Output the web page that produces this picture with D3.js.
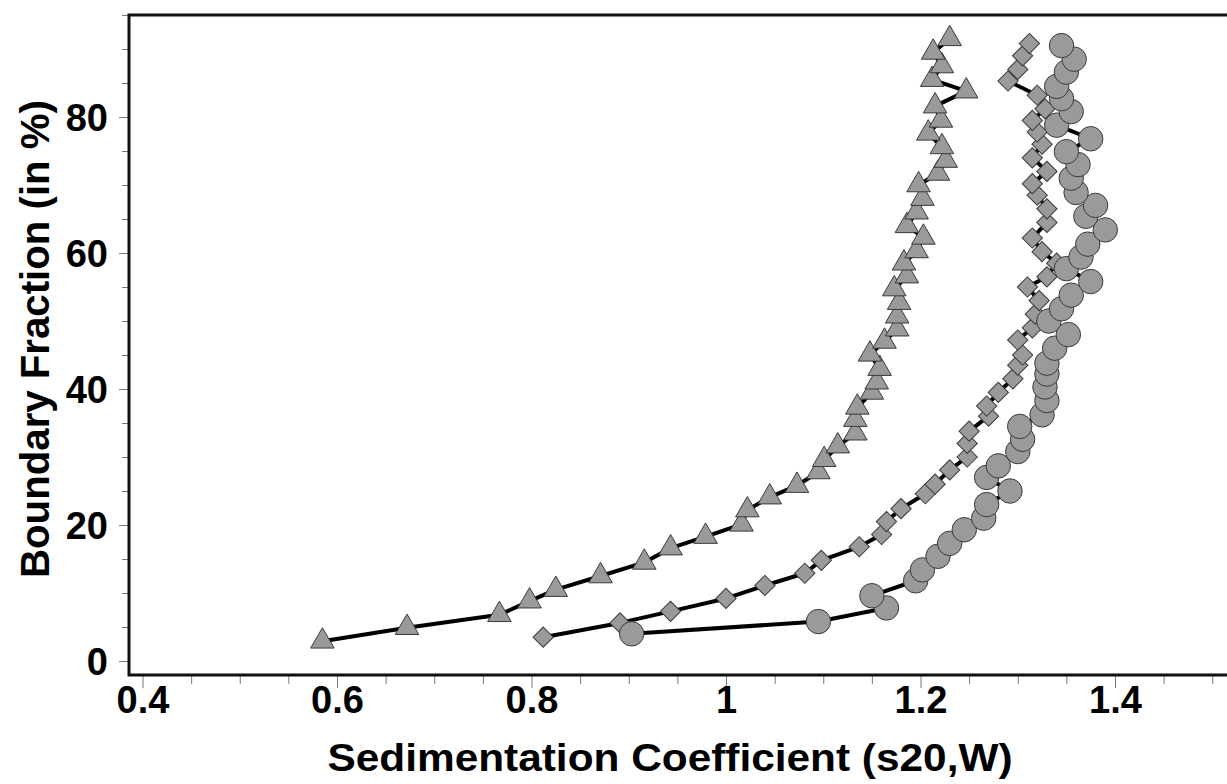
<!DOCTYPE html>
<html>
<head>
<meta charset="utf-8">
<script src="https://cdn.jsdelivr.net/npm/d3@7"></script>
<style>
  body { margin: 0; background: #fff; }
  text { font-family: "Liberation Sans", Arial, sans-serif; font-weight: bold; }
</style>
</head>
<body>
<div id="chart"></div>
<script>
// boundary fraction (%) and sedimentation coefficient for each sample
const triY = [2.9, 4.9, 6.8, 8.8, 10.5, 12.5, 14.5, 16.6, 18.3, 20.1, 22.2, 24.1, 25.8, 27.8, 29.6, 31.6, 33.5, 35.5, 37.3, 39.5,
    41.0, 43.0, 45.1, 47.0, 48.8, 50.7, 52.7, 54.7, 56.6, 58.5, 60.3, 62.3, 64.0, 66.0, 68.0, 70.0, 71.7, 73.6, 75.6, 77.6,
    79.5, 81.6, 83.8, 85.5, 87.5, 89.5, 91.5]
const triX = [0.585, 0.672, 0.767, 0.798, 0.825, 0.871, 0.916, 0.943, 0.979, 1.016, 1.022, 1.045, 1.073, 1.095, 1.101, 1.115, 1.133, 1.133, 1.135, 1.150,
    1.155, 1.158, 1.148, 1.163, 1.176, 1.176, 1.178, 1.173, 1.186, 1.183, 1.196, 1.203, 1.186, 1.196, 1.202, 1.198, 1.218, 1.226, 1.222, 1.208,
    1.221, 1.215, 1.247, 1.212, 1.222, 1.213, 1.230]

const diaY = [3.5, 5.6, 7.3, 9.2, 11.1, 12.9, 14.8, 16.8, 18.6, 20.5, 22.4, 24.6, 26.0, 28.1, 30.0, 32.0, 33.8, 36.0, 37.5, 39.5,
    41.5, 43.5, 45.0, 47.2, 49.0, 51.0, 53.0, 55.0, 56.5, 58.5, 60.2, 62.2, 64.5, 66.5, 68.5, 70.2, 72.0, 74.0, 76.0, 77.8,
    79.5, 81.2, 83.2, 85.3, 87.0, 89.0, 90.8]
const diaX = [0.812, 0.891, 0.943, 1.000, 1.040, 1.081, 1.098, 1.137, 1.160, 1.165, 1.180, 1.205, 1.215, 1.230, 1.248, 1.248, 1.250, 1.270, 1.268, 1.280,
    1.295, 1.300, 1.305, 1.300, 1.315, 1.318, 1.322, 1.310, 1.330, 1.340, 1.325, 1.315, 1.330, 1.330, 1.320, 1.315, 1.330, 1.315, 1.325, 1.320,
    1.315, 1.328, 1.320, 1.290, 1.300, 1.305, 1.312]

const cirY = [4.0, 5.8, 7.8, 9.6, 11.8, 13.4, 15.4, 17.3, 19.3, 21.0, 23.0, 25.0, 27.0, 28.7, 30.8, 32.6, 34.5, 36.2, 38.3, 40.3,
    42.2, 43.8, 46.0, 48.0, 50.0, 51.8, 53.8, 55.8, 57.7, 59.4, 61.3, 63.4, 65.4, 67.0, 68.9, 71.0, 73.0, 74.9, 76.8, 78.8,
    80.8, 82.7, 84.5, 86.6, 88.5, 90.5]
const cirX = [0.903, 1.095, 1.165, 1.150, 1.195, 1.202, 1.218, 1.230, 1.245, 1.265, 1.268, 1.292, 1.268, 1.280, 1.300, 1.305, 1.302, 1.325, 1.330, 1.328,
    1.330, 1.330, 1.338, 1.352, 1.332, 1.345, 1.355, 1.375, 1.350, 1.365, 1.372, 1.390, 1.370, 1.380, 1.360, 1.355, 1.362, 1.350, 1.375, 1.340,
    1.355, 1.345, 1.340, 1.350, 1.358, 1.345]

const xTicks = [0.4, 0.6, 0.8, 1, 1.2, 1.4]
const yTicks = [0, 20, 40, 60, 80]

const width = 1227, height = 784
const plotLeft = 129, plotTop = 15, plotBottom = 675

const svg = d3.select('#chart').append('svg')
    .attr('width', width)
    .attr('height', height)

const x = d3.scaleLinear().domain([0.4, 1.4]).range([142.5, 1115])
const y = d3.scaleLinear().domain([0, 80]).range([661, 117])

// minor ticks
const xMinor = d3.range(0.4, 1.56, 0.05).filter(v => Math.abs(v * 5 - Math.round(v * 5)) > 1e-6)
const yMinor = d3.range(0, 96, 5).filter(v => v % 20 != 0)

const xAxis = svg.append('g')
    .attr('transform', `translate(0,${plotBottom})`)
    .call(d3.axisBottom(x).tickValues(xTicks).tickSize(13).tickFormat(d3.format('')))
xAxis.select('.domain').remove()
xAxis.selectAll('line').attr('stroke', '#777')
xAxis.selectAll('text').attr('font-size', 38).attr('fill', '#000').attr('dy', '0.58em')

svg.append('g')
    .attr('transform', `translate(0,${plotBottom})`)
    .call(d3.axisBottom(x).tickValues(xMinor).tickSize(9).tickFormat(''))
    .call(g => g.select('.domain').remove())
    .selectAll('line').attr('stroke', '#777')

const yAxis = svg.append('g')
    .attr('transform', `translate(${plotLeft},0)`)
    .call(d3.axisLeft(y).tickValues(yTicks).tickSize(10))
yAxis.select('.domain').remove()
yAxis.selectAll('line').attr('stroke', '#777')
yAxis.selectAll('text').attr('font-size', 38).attr('fill', '#000').attr('x', -21).attr('dy', '0.36em')

svg.append('g')
    .attr('transform', `translate(${plotLeft},0)`)
    .call(d3.axisLeft(y).tickValues(yMinor).tickSize(7).tickFormat(''))
    .call(g => g.select('.domain').remove())
    .selectAll('line').attr('stroke', '#777')

// frame (right side runs off the page)
svg.append('path')
    .attr('d', `M${width},${plotTop}H${plotLeft}V${plotBottom}H${width}`)
    .attr('fill', 'none')
    .attr('stroke', '#111')
    .attr('stroke-width', 3)

const series = [
    { xs: triX, ys: triY, sym: d3.symbolTriangle, size: 240 },
    { xs: diaX, ys: diaY, sym: d3.symbolSquare, size: 205, rot: 45 },
    { xs: cirX, ys: cirY, sym: d3.symbolCircle, size: 470 },
]

const line = d3.line().x(d => x(d[0])).y(d => y(d[1]))

series.forEach(s => {
    const pts = s.xs.map((v, i) => [v, s.ys[i]])
    svg.append('path')
        .datum(pts)
        .attr('fill', 'none')
        .attr('stroke', '#000')
        .attr('stroke-width', 4)
        .attr('stroke-linejoin', 'round')
        .attr('d', line)
    svg.append('g').selectAll('path')
        .data(pts)
        .join('path')
        .attr('transform', d => `translate(${x(d[0])},${y(d[1])}) rotate(${s.rot || 0})`)
        .attr('d', d3.symbol(s.sym, s.size))
        .attr('fill', '#9a9a9a')
        .attr('stroke', '#3a3a3a')
        .attr('stroke-width', 1)
})

// axis titles
svg.append('text')
    .attr('x', 670)
    .attr('y', 771)
    .attr('text-anchor', 'middle')
    .attr('font-size', 38)
    .attr('textLength', 685)
    .attr('lengthAdjust', 'spacingAndGlyphs')
    .text('Sedimentation Coefficient (s20,W)')

svg.append('text')
    .attr('transform', 'translate(49,339) rotate(-90)')
    .attr('text-anchor', 'middle')
    .attr('font-size', 40)
    .attr('textLength', 478)
    .attr('lengthAdjust', 'spacingAndGlyphs')
    .text('Boundary Fraction (in %)')
</script>
</body>
</html>
